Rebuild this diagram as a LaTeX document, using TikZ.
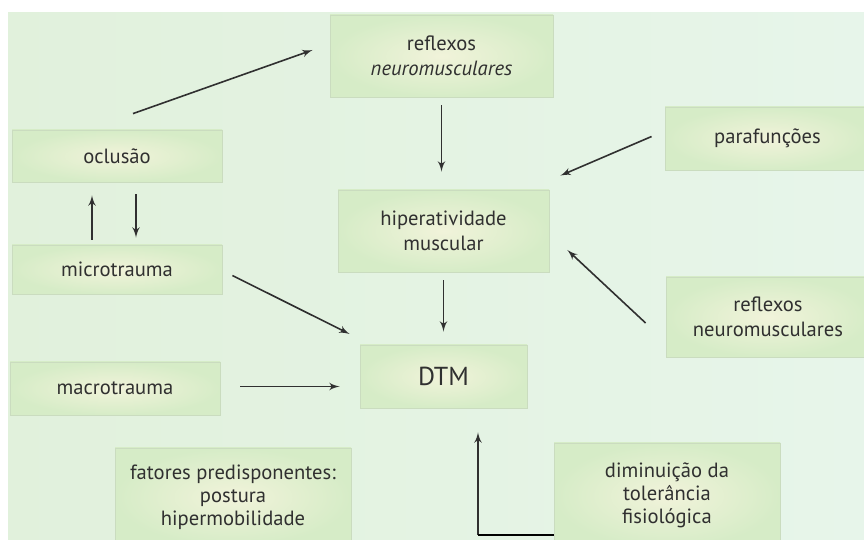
\documentclass[tikz,border=0pt]{standalone}
\usepackage{fontspec}
\setmainfont{PT Sans}
\usepackage{tikz}
\usetikzlibrary{arrows,positioning,calc}
\definecolor{bgleft}{HTML}{E1F1DC}
\definecolor{bgmid}{HTML}{F1FAF6}
\definecolor{bgright}{HTML}{E7F5EA}
\definecolor{boxin}{HTML}{F1F3DA}
\definecolor{boxout}{HTML}{D6ECC7}
\definecolor{boxline}{HTML}{CADCBF}
\definecolor{ink}{HTML}{303030}

\begin{document}
\begin{tikzpicture}[x=0.5pt,y=-0.5pt,>=latex',
    box/.style={rectangle,draw=boxline,line width=0.4pt,inner color=boxin,outer color=boxout,text=ink,align=center,font=\fontsize{10.3}{12.5}\selectfont},
    link/.style={->,draw=ink,line width=0.8pt}]
        \clip (0,0) rectangle (864,540);
        \fill[white] (0,0) rectangle (864,540);
        \shade[left color=bgleft,middle color=bgmid,right color=bgright] (8,13) rectangle (864,540);

        \node [box,minimum width=111.5pt,minimum height=41pt] (refltop) at (441.5,56) {reflexos\\\textit{neuromusculares}};
        \node [box,minimum width=105pt,minimum height=26pt] (oclusao) at (117,156) {oclusão};
        \node [box,minimum width=102.5pt,minimum height=31.5pt] (parafuncoes) at (767.5,138.5) {parafunções};
        \node [box,minimum width=105.5pt,minimum height=41pt] (hiper) at (443.5,231) {hiperatividade\\muscular};
        \node [box,minimum width=105pt,minimum height=24.5pt] (micro) at (117,269.5) {microtrauma};
        \node [box,minimum width=102pt,minimum height=40pt] (reflright) at (768,317) {reflexos\\neuromusculares};
        \node [box,minimum width=83.5pt,minimum height=31.5pt,font=\fontsize{13}{15}\selectfont] (dtm) at (443.5,376.5) {DTM};
        \node [box,minimum width=105pt,minimum height=26.5pt] (macro) at (115,388.5) {macrotrauma};
        \node [box,minimum width=118pt,minimum height=49pt,font=\fontsize{10.3}{11.5}\selectfont] (fatores) at (233,497) {fatores predisponentes:\\postura\\hipermobilidade};
        \node [box,minimum width=113pt,minimum height=52.5pt,font=\fontsize{10.3}{11.5}\selectfont] (diminuicao) at (667,495.5) {diminuição da\\tolerância\\fisiológica};
        \coordinate (base) at (478,535);

        \draw [link] ([shift={(16,-16)}]oclusao.north) -- ([shift={(-17,-6)}]refltop.west);
        \draw [link,shorten <=4pt,shorten >=9pt] (refltop.south) -- (refltop.south |- hiper.north);
        \draw [link] ([shift={(-13,-2)}]parafuncoes.west) -- ([shift={(11,-14)}]hiper.north east);
        \draw [link] ([shift={(-20,6)}]reflright.west) -- ([shift={(18,19)}]hiper.east);
        \draw [link,shorten <=4pt,shorten >=6.5pt] (hiper.south) -- (dtm.north);
        \draw [link] ([shift={(10,6)}]micro.east) -- ([shift={(-10,-42.5)}]dtm.west);
        \draw [link,shorten <=10pt,shorten >=10pt] ([yshift=1pt]macro.east) -- ([yshift=1pt]macro.east -| dtm.west);
        \draw [link,shorten <=2.5pt,shorten >=6.5pt] ([shift={(-25,0)}]micro.north) -- ([shift={(-25,0)}]oclusao.south);
        \draw [link,shorten <=6pt,shorten >=3.5pt] ([shift={(19,0)}]oclusao.south) -- ([shift={(19,0)}]micro.north);
        \draw [link,shorten >=12pt] (base) -- (base |- dtm.south);
        \draw [black,line width=1.2pt] (base) -- (base -| diminuicao.west);
\end{tikzpicture}
\end{document}
